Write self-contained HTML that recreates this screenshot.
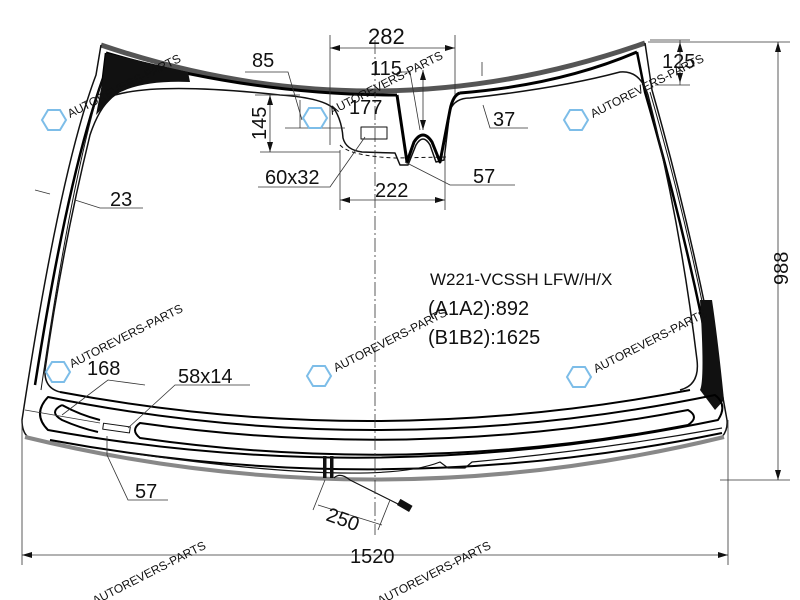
<!DOCTYPE html>
<html><head><meta charset="utf-8"><style>
html,body{margin:0;padding:0;background:#fff;}
svg{display:block;}
text{font-family:"Liberation Sans",Arial,sans-serif;fill:#111;}
.wm{fill:#7dbde8;font-size:12px;}
</style></head><body>
<svg width="800" height="600" viewBox="0 0 800 600" xmlns="http://www.w3.org/2000/svg">
<g fill="none" stroke="#111" stroke-linejoin="round">
<!-- top grey band -->
<path d="M101,45 Q375,138 645,43" stroke="#555" stroke-width="5"/>
<!-- outer edges -->
<path d="M101,45 L96,75 Q60,170 22,420 Q22,432 28,437" stroke-width="1.5"/>
<path d="M645,43 L652,90 Q695,240 727,420 Q728,430 722,437" stroke-width="1.5"/>
<!-- bottom grey band -->
<path d="M25,437 Q374,522 724,437" stroke="#888" stroke-width="4"/>
<!-- black frame line top -->
<path d="M106,53 Q250,95 397,95 M460,93 Q560,85 637,52" stroke="#000" stroke-width="3"/>
<path d="M106,53 L103,78 Q68,175 35,385" stroke="#000" stroke-width="2.5"/>
<path d="M637,52 L645,92 Q688,240 716,390" stroke="#000" stroke-width="2.5"/>
<path d="M102,80 Q72,175 41,390" stroke-width="1"/>
<path d="M650,92 Q693,240 722,405" stroke-width="1"/>
<!-- top-left black corner -->
<path d="M106,53 L188,72 L190,82 Q140,80 115,95 L96,115 L103,78 Z" fill="#111" stroke="none"/>
<!-- right bottom black wedge -->
<path d="M700,300 L712,300 Q718,340 724,400 L715,410 L700,390 Q705,380 700,300 Z" fill="#111" stroke="none"/>
<!-- inner visible area line -->
<path d="M115,95 Q160,82 280,95 Q325,98 335,110 Q342,122 343,138 Q346,150 362,152 L395,153 L400,165 L408,165 L416,145 Q423,133 430,145 L436,162 L444,160 L450,110 Q455,98 470,98 Q560,88 620,72 Q640,70 648,95 Q680,220 697,360 Q700,385 680,390" stroke-width="1.5"/>
<path d="M115,95 Q100,105 90,135 Q62,250 45,370 Q44,388 60,392" stroke-width="1.5"/>
<path d="M340,145 Q350,156 395,158 L446,157" stroke-dasharray="4,3" stroke-width="1"/>
<!-- mirror bracket -->
<path d="M397,95 L407,162 L414,142 Q423,128 432,142 L440,162 L450,110 Q453,95 460,93" stroke="#000" stroke-width="3"/>
<!-- view area bottom -->
<path d="M60,392 Q372,451 690,390" stroke="#000" stroke-width="2"/>
<!-- heater outer loop -->
<path d="M48,397 Q380,464 715,395 Q728,405 718,420 Q380,490 48,430 Q32,414 48,397 Z" stroke="#000" stroke-width="2"/>
<!-- inner long loop -->
<path d="M140,423 Q414,462 688,410 Q700,417 688,425 Q414,477 140,438 Q130,430 140,423 Z" stroke="#000" stroke-width="2"/>
<!-- left small loop -->
<path d="M62,405 Q80,415 100,420 M62,405 Q48,412 62,420 Q80,428 98,432" stroke="#000" stroke-width="2"/>
<!-- lower line -->
<path d="M50,440 Q385,502 722,433" stroke="#000" stroke-width="2"/>
<path d="M130,453 Q375,488 440,462 L448,468 L465,468 L472,462 Q600,450 722,428" stroke-width="1.2"/>
<rect x="103" y="425" width="27" height="6" stroke-width="1" transform="rotate(8 116 428)"/>
<rect x="323" y="456" width="3.5" height="22" fill="#111" stroke="none"/>
<rect x="330" y="456" width="3.5" height="22" fill="#111" stroke="none"/>
<path d="M334,478 Q340,472 350,480 L400,505" stroke-width="1.2"/>
<rect x="398" y="502" width="14" height="7" fill="#111" stroke="none" transform="rotate(30 405 505)"/>
<!-- sensor rect -->
<rect x="361" y="127" width="26" height="12" stroke-width="1"/>
<!-- centre line -->
<path d="M375,40 L375,535" stroke="#333" stroke-width="0.8" stroke-dasharray="14,3,2,3"/>
</g>
<!-- dimension lines -->
<g stroke="#333" stroke-width="0.8" fill="none">
<path d="M22,420 L22,565 M728,420 L728,565 M22,555 L728,555"/>
<path d="M648,42 L790,42 M720,480 L790,480 M778,42 L778,480"/>
<path d="M330,35 L330,145 M455,35 L455,95 M330,48 L455,48"/>
<path d="M340,150 L340,210 M445,150 L445,210 M340,200 L445,200"/>
<path d="M270,95 L270,152 M260,152 L340,152 M255,95 L300,95"/>
<path d="M300,100 L300,128 M285,128 L345,128"/>
<path d="M245,72 L288,72 L302,120"/>
<path d="M398,72 L410,72 L420,130 M423,70 L423,130"/>
<path d="M650,40 L690,40 M655,85 L690,85 M680,40 L680,85"/>
<path d="M482,62 L482,76 M483,105 L490,128 L528,128"/>
<path d="M405,162 L450,185 L515,185"/>
<path d="M258,187 L330,187 L365,137"/>
<path d="M35,190 L50,194 M75,200 L100,208 L143,208"/>
<path d="M25,410 L100,423 M145,385 L108,380 L62,415"/>
<path d="M250,385 L175,385 L128,428"/>
<path d="M107,436 L107,455 L128,500 L168,500"/>
<path d="M325,480 L313,510 M390,500 L378,530 M318,505 L382,525"/>
</g>
<g fill="#111">
<path d="M22,555 l10,-3 v6 z M728,555 l-10,-3 v6 z M778,42 l-3,10 h6 z M778,480 l-3,-10 h6 z M330,48 l10,-3 v6 z M455,48 l-10,-3 v6 z M340,200 l10,-3 v6 z M445,200 l-10,-3 v6 z M270,95 l-3,10 h6 z M270,152 l-3,-10 h6 z M423,70 l-3,10 h6 z M423,130 l-3,-10 h6 z M680,42 l-3,10 h6 z M680,83 l-3,-10 h6 z"/>
</g>
<!-- text -->
<text x="368" y="44" font-size="22">282</text>
<text x="252" y="67" font-size="20">85</text>
<text x="370" y="75" font-size="20">115</text>
<text x="662" y="68" font-size="20">125</text>
<text x="0" y="0" font-size="20" transform="translate(266,140) rotate(-90)">145</text>
<text x="349" y="114" font-size="20">177</text>
<text x="493" y="126" font-size="20">37</text>
<text x="265" y="184" font-size="20">60x32</text>
<text x="375" y="197" font-size="20">222</text>
<text x="473" y="183" font-size="20">57</text>
<text x="110" y="206" font-size="20">23</text>
<text x="430" y="285" font-size="17">W221-VCSSH LFW/H/X</text>
<text x="428" y="315" font-size="20">(A1A2):892</text>
<text x="428" y="344" font-size="20">(B1B2):1625</text>
<text x="87" y="375" font-size="20">168</text>
<text x="178" y="383" font-size="20">58x14</text>
<text x="135" y="498" font-size="20">57</text>
<text x="0" y="0" font-size="20" transform="translate(325,520) rotate(20)">250</text>
<text x="350" y="563" font-size="20">1520</text>
<text x="0" y="0" font-size="20" transform="translate(788,285) rotate(-90)">988</text>
<!-- watermarks -->
<g class="wm">
<text transform="translate(70,118) rotate(-27)">AUTOREVERS-PARTS</text>
<text transform="translate(332,115) rotate(-27)">AUTOREVERS-PARTS</text>
<text transform="translate(593,118) rotate(-27)">AUTOREVERS-PARTS</text>
<text transform="translate(72,368) rotate(-27)">AUTOREVERS-PARTS</text>
<text transform="translate(336,372) rotate(-27)">AUTOREVERS-PARTS</text>
<text transform="translate(596,373) rotate(-27)">AUTOREVERS-PARTS</text>
<text transform="translate(95,605) rotate(-27)">AUTOREVERS-PARTS</text>
<text transform="translate(380,605) rotate(-27)">AUTOREVERS-PARTS</text>
</g>
<g fill="none" stroke="#7dbde8" stroke-width="2">
<path d="M42,120 l6,-10 h12 l6,10 l-6,10 h-12 z"/>
<path d="M303,118 l6,-10 h12 l6,10 l-6,10 h-12 z"/>
<path d="M564,120 l6,-10 h12 l6,10 l-6,10 h-12 z"/>
<path d="M46,372 l6,-10 h12 l6,10 l-6,10 h-12 z"/>
<path d="M307,376 l6,-10 h12 l6,10 l-6,10 h-12 z"/>
<path d="M567,377 l6,-10 h12 l6,10 l-6,10 h-12 z"/>
</g>
</svg>
</body></html>
